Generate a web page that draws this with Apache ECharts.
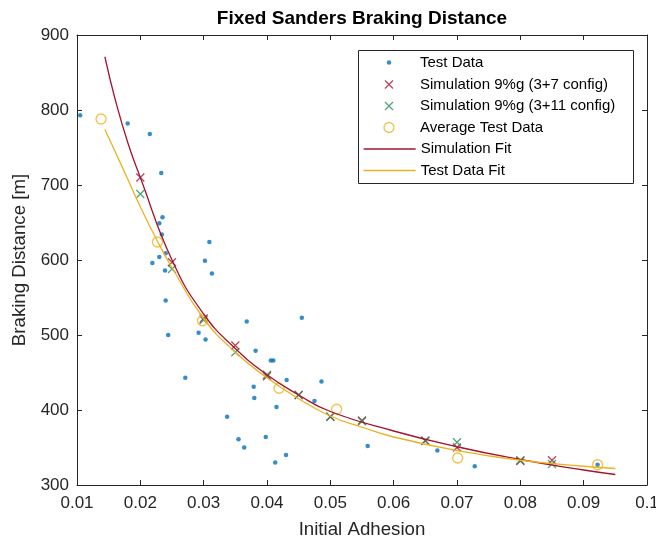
<!DOCTYPE html>
<html>
<head>
<meta charset="utf-8">
<script src="https://cdn.jsdelivr.net/npm/echarts@6/dist/echarts.min.js"></script>
<style>html,body{margin:0;padding:0;background:#fff}#c{width:656px;height:541px}</style>
</head>
<body>
<div id="c"></div>
<script>
// ---- data ----
var testX = [0.0105,0.0180,0.0215,0.0233,0.0235,0.0230,0.0234,0.0309,0.0240,0.0230,0.0219,0.0302,0.0239,0.0313,0.0240,0.0244,0.0292,0.0303,0.0368,0.0455,0.0382,0.0406,0.0410,0.0271,0.0431,0.0486,0.0379,0.0380,0.0475,0.0415,0.0337,0.0355,0.0398,0.0364,0.0430,0.0413,0.0559,0.0669,0.0728,0.0922];
var testY = [793,782,768,716,657,649,634,624,609,604,596,599,586,582,546,500,503,494,518,523,479,466,466,443,440,438,431,416,412,404,391,361,364,350,340,330,352,346,325,327];

var simX = [0.02,0.025,0.03,0.035,0.04,0.045,0.05,0.055,0.065,0.07,0.08,0.085];
var sim7Y = [710,597,522,486,445,420,391,386,359,350,332,333];
var sim11Y = [688,588,520,477,447,420,391,385,359,357,333,328];

var avgX = [0.0138,0.0227,0.0298,0.0419,0.0510,0.0701,0.0922];
var avgY = [788,624,519,429,401,336,327];

var simFitX = [0.0144,0.016,0.018,0.02,0.025,0.03,0.035,0.04,0.045,0.05,0.06,0.07,0.08,0.09,0.095];
var simFitY = [871,815,757,710,600,528,482,447,420,398,372,351,334,320,314];

var testFitX = [0.0144,0.016,0.018,0.02,0.0227,0.025,0.03,0.035,0.04,0.045,0.05,0.055,0.06,0.07,0.08,0.09,0.095];
var testFitY = [774,745,708,671,625,590,522,477,443,415,392,377,364,346,333,325,322];

var xTicks = {min:0.01, max:0.1, interval:0.01};
var yTicks = {min:300, max:900, interval:100};

var names = ['Test Data','Simulation 9%g (3+7 config)','Simulation 9%g (3+11 config)','Average Test Data','Simulation Fit','Test Data Fit'];

function zip(a,b){return a.map(function(v,i){return [v,b[i]];});}

var BLUE='#0072BD', RED='#A2142F', GREEN='#1E8C50', YEL='#EDB120', AX='#262626';
var FONT='Liberation Sans';
var XPATH='path://M0,0L10,10M10,0L0,10';

var chart = echarts.init(document.getElementById('c'), null, {renderer:'canvas'});

function axisBase(extra){
  var o = {
    axisLine:{show:true,onZero:false,lineStyle:{color:AX,width:1}},
    axisTick:{show:true,inside:true,length:5,lineStyle:{color:AX,width:1}},
    splitLine:{show:false},
    axisLabel:{show:false}
  };
  for (var k in extra) o[k]=extra[k];
  return o;
}

var rowY = [62.5,84.5,106,127.5,149,170.5];
var ICON_CX = 389;
var legendSpecs = [
  {h:4.5, lw:0, icon:'circle', itemStyle:{color:BLUE,borderWidth:0}},
  {h:8, lw:1.2, icon:XPATH, itemStyle:{color:RED,borderColor:RED,borderWidth:1.2}},
  {h:8, lw:1.2, icon:XPATH, itemStyle:{color:GREEN,borderColor:GREEN,borderWidth:1.2}},
  {h:10, lw:1.3, icon:'circle', itemStyle:{color:'rgba(0,0,0,0)',borderColor:YEL,borderWidth:1.3}},
  {h:8, icon:null, lineColor:RED},
  {h:8, icon:null, lineColor:YEL}
];
var legends = legendSpecs.map(function(s,i){
  var d = {name:names[i]};
  var L = {
    data:[d], left:363, top:rowY[i]-9, padding:0, orient:'vertical',
    itemWidth:52, itemHeight:s.h, selectedMode:false, z:6,
    textStyle:{fontFamily:FONT,fontSize:15,color:'#000',lineHeight:18}
  };
  if (s.icon){
    d.icon=s.icon; L.itemStyle=s.itemStyle;
    L.left = ICON_CX - s.h/2 - s.lw/2;
  } else { L.itemStyle={opacity:0}; L.lineStyle={color:s.lineColor,width:1.3}; }
  return L;
});

var option = {
  backgroundColor:'#fff',
  animation:false,
  textStyle:{fontFamily:FONT},
  grid:{left:77,right:9,top:35,bottom:56,containLabel:false,outerBoundsMode:'none'},
  graphic:[
    {type:'text', x:362, y:19, z:10, style:{text:'Fixed Sanders Braking Distance', textAlign:'center', textVerticalAlign:'middle', font:'bold 19px "Liberation Sans"', fill:'#000'}},
    {type:'rect', shape:{x:358.5,y:50.5,width:275,height:133}, z:5, style:{fill:'#fff',stroke:AX,lineWidth:1}}
  ],
  legend: legends,
  xAxis:[
    axisBase({type:'value', position:'bottom', min:xTicks.min, max:xTicks.max, interval:xTicks.interval,
      name:'Initial Adhesion', nameLocation:'middle', nameGap:35,
      nameTextStyle:{fontFamily:FONT,fontSize:18.7,color:AX},
      axisLabel:{show:true,margin:10,fontFamily:FONT,fontSize:17,color:AX,formatter:function(v){return String(+v.toFixed(2));}}}),
    axisBase({type:'value', position:'top', min:xTicks.min, max:xTicks.max, interval:xTicks.interval})
  ],
  yAxis:[
    axisBase({type:'value', position:'left', min:yTicks.min, max:yTicks.max, interval:yTicks.interval,
      name:'Braking Distance [m]', nameLocation:'middle', nameGap:42,
      nameTextStyle:{fontFamily:FONT,fontSize:18.7,color:AX},
      axisLabel:{show:true,margin:8,fontFamily:FONT,fontSize:17,color:AX}}),
    axisBase({type:'value', position:'right', min:yTicks.min, max:yTicks.max, interval:yTicks.interval})
  ],
  series:[
    {name:names[0], type:'scatter', data:zip(testX,testY), symbol:'circle', symbolSize:4.5,
      itemStyle:{color:BLUE}, z:2},
    {name:names[1], type:'scatter', data:zip(simX,sim7Y), symbol:XPATH, symbolSize:8,
      itemStyle:{color:RED,borderColor:RED,borderWidth:1.2}, z:3},
    {name:names[2], type:'scatter', data:zip(simX,sim11Y), symbol:XPATH, symbolSize:8,
      itemStyle:{color:GREEN,borderColor:GREEN,borderWidth:1.2}, z:3},
    {name:names[3], type:'scatter', data:zip(avgX,avgY), symbol:'circle', symbolSize:10,
      itemStyle:{color:'rgba(0,0,0,0)',borderColor:YEL,borderWidth:1.3}, z:3},
    {name:names[4], type:'line', data:zip(simFitX,simFitY), smooth:0.5, symbol:'none',
      lineStyle:{color:RED,width:1.3}, itemStyle:{color:RED}, z:4},
    {name:names[5], type:'line', data:zip(testFitX,testFitY), smooth:0.5, symbol:'none',
      lineStyle:{color:YEL,width:1.3}, itemStyle:{color:YEL}, z:4}
  ]
};
chart.setOption(option);
</script>
</body>
</html>
